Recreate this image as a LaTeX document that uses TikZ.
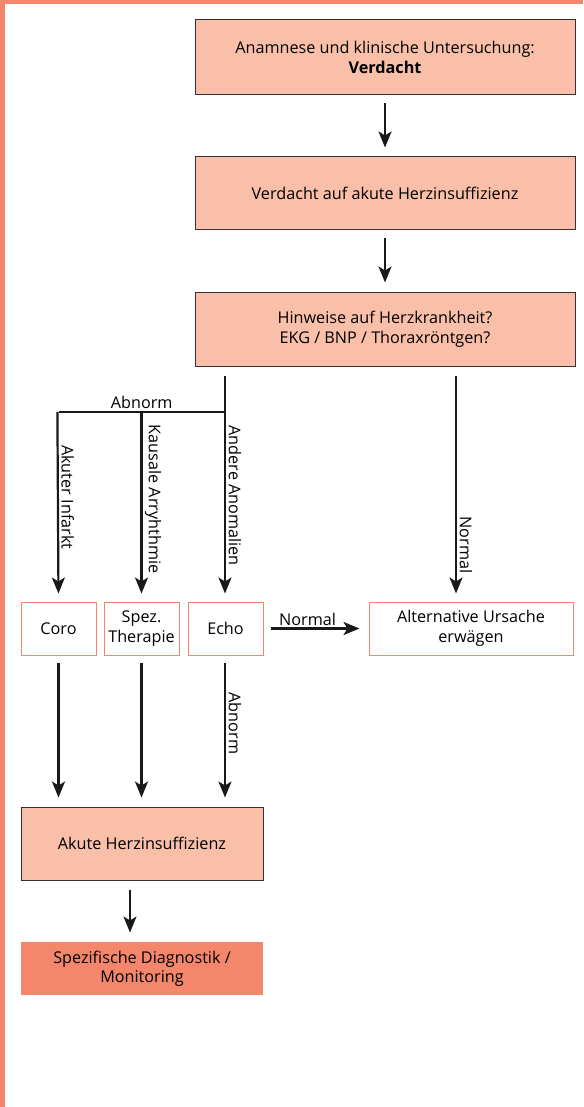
\documentclass[tikz,border=0pt]{standalone}
\usepackage{fontspec}
\setmainfont{Open Sans}
\usepackage{xcolor}
\usetikzlibrary{arrows.meta}
\definecolor{lachs}{HTML}{F9BFA9}
\definecolor{lachsdunkel}{HTML}{F4866C}

\tikzset{
  hauptbox/.style={draw=black!80, line width=1pt, fill=lachs, align=center,
    minimum width=380pt, minimum height=74pt, inner sep=0pt},
  kleinbox/.style={draw=lachsdunkel, line width=1pt, fill=white, align=center,
    minimum width=75pt, minimum height=53pt, inner sep=0pt},
  pfeil/.style={line width=2.2pt, draw=black!90, -{Stealth[length=16pt,width=13pt,inset=4pt]}},
  linie/.style={line width=2.2pt, draw=black!90},
  drehtext/.style={rotate=-90, anchor=south, inner sep=2.5pt}
}

\begin{document}
\begin{tikzpicture}[x=1pt, y=-1pt, font=\fontsize{16.2}{19.5}\selectfont]
    \useasboundingbox (0,0) rectangle (583,1107);
    % Draw the frame on the left and on top
    \fill[lachsdunkel] (0,0) rectangle (5,1107);
    \fill[lachsdunkel] (0,0) rectangle (583,4);

    % Draw the main boxes
    \node[hauptbox, minimum height=75pt] (anamnese) at (385,57.5) {Anamnese und klinische Untersuchung:\\\textbf{Verdacht}};
    \node[hauptbox, minimum height=73pt] (verdacht) at (385,193.5) {Verdacht auf akute Herzinsuffizienz};
    \node[hauptbox] (hinweise) at (385,329) {Hinweise auf Herzkrankheit?\\EKG / BNP / Thoraxröntgen?};

    % Draw the small boxes
    \node[kleinbox] (coro) at (58.5,628.5) {Coro};
    \node[kleinbox] (spez) at (141.5,628.5) {Spez.\\Therapie};
    \node[kleinbox] (echo) at (225.5,628.5) {Echo};
    \node[kleinbox, minimum width=204pt] (alternativ) at (471,628.5) {Alternative Ursache\\erwägen};

    % Draw the bottom boxes
    \node[hauptbox, minimum width=242pt, minimum height=73pt] (akut) at (142,843.5) {Akute Herzinsuffizienz};
    \node[hauptbox, draw=none, fill=lachsdunkel, minimum width=242pt, minimum height=53pt] (diagnostik) at (142,968.5) {Spezifische Diagnostik /\\Monitoring};

    % Draw the arrows
    \draw[pfeil, shorten <=8pt, shorten >=9pt] (anamnese) -- (verdacht);
    \draw[pfeil, shorten <=8pt, shorten >=9pt] (verdacht) -- (hinweise);
    \coordinate (abzweig) at (225,412);
    \draw[pfeil, shorten <=9pt, shorten >=8pt] (hinweise.south -| abzweig) -- (echo.north -| abzweig)
        node[drehtext, pos=0.55] {Andere Anomalien};
    \draw[linie] (abzweig) -- (abzweig -| coro.north) node[midway, above, inner sep=2pt] {Abnorm};
    \draw[pfeil, shorten >=8pt] ([xshift=-1.1pt]abzweig -| coro.north) -- (coro.north)
        node[drehtext, pos=0.45] {Akuter Infarkt};
    \draw[pfeil, shorten >=8pt] (abzweig -| spez.north) -- (spez.north)
        node[drehtext, pos=0.46] {Kausale Arryhthmie};
    \draw[pfeil, shorten <=9pt, shorten >=8pt] (hinweise.south -| 456,0) -- (alternativ.north -| 456,0)
        node[drehtext, pos=0.76] {Normal};
    \draw[pfeil, shorten <=7pt, shorten >=9pt] (echo) -- (alternativ) node[pos=0.42, above, inner sep=2pt] {Normal};
    \draw[pfeil, shorten <=7pt, shorten >=9pt] (coro.south) -- (coro.south |- akut.north);
    \draw[pfeil, shorten <=7pt, shorten >=9pt] (spez.south) -- (spez.south |- akut.north);
    \draw[pfeil, shorten <=7pt, shorten >=9pt] (echo.south -| abzweig) -- (akut.north -| abzweig)
        node[drehtext, pos=0.45] {Abnorm};
    \draw[pfeil, shorten <=9pt, shorten >=9pt] ([xshift=-12pt]akut.south) -- ([xshift=-12pt]diagnostik.north);
\end{tikzpicture}
\end{document}
